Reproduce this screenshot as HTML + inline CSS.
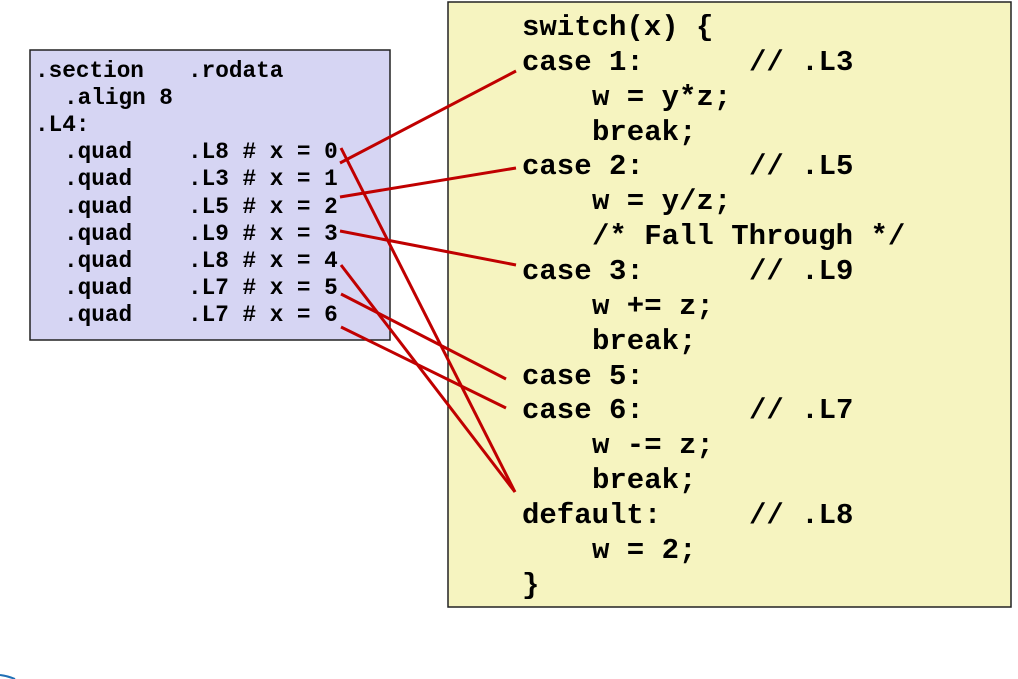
<!DOCTYPE html>
<html><head><meta charset="utf-8"><style>
html,body{margin:0;padding:0;background:#fff;}
svg{display:block;}
text{font-family:"Liberation Mono",monospace;font-weight:bold;fill:#000;white-space:pre;}
</style></head><body>
<svg width="1018" height="679" viewBox="0 0 1018 679" xmlns="http://www.w3.org/2000/svg">
<rect x="30" y="50" width="360" height="290" fill="#d6d5f3" stroke="#222" stroke-width="1.5"/>
<rect x="448" y="2" width="563" height="605" fill="#f6f4c0" stroke="#222" stroke-width="1.5"/>
<g font-size="22.7" xml:space="preserve">
<text x="35" y="77">.section</text><text x="188" y="77">.rodata</text>
<text x="64" y="104">.align 8</text>
<text x="35" y="131">.L4:</text>
<text x="64" y="158">.quad</text><text x="188" y="158">.L8 # x = 0</text>
<text x="64" y="185">.quad</text><text x="188" y="185">.L3 # x = 1</text>
<text x="64" y="213">.quad</text><text x="188" y="213">.L5 # x = 2</text>
<text x="64" y="240">.quad</text><text x="188" y="240">.L9 # x = 3</text>
<text x="64" y="267">.quad</text><text x="188" y="267">.L8 # x = 4</text>
<text x="64" y="294">.quad</text><text x="188" y="294">.L7 # x = 5</text>
<text x="64" y="321">.quad</text><text x="188" y="321">.L7 # x = 6</text>
</g>
<g font-size="29" xml:space="preserve">
<text x="522" y="35">switch(x) {</text>
<text x="522" y="70">case 1:</text><text x="749" y="70">// .L3</text>
<text x="592" y="105">w = y*z;</text>
<text x="592" y="140">break;</text>
<text x="522" y="174">case 2:</text><text x="749" y="174">// .L5</text>
<text x="592" y="209">w = y/z;</text>
<text x="592" y="244">/* Fall Through */</text>
<text x="522" y="279">case 3:</text><text x="749" y="279">// .L9</text>
<text x="592" y="314">w += z;</text>
<text x="592" y="349">break;</text>
<text x="522" y="384">case 5:</text>
<text x="522" y="418">case 6:</text><text x="749" y="418">// .L7</text>
<text x="592" y="453">w -= z;</text>
<text x="592" y="488">break;</text>
<text x="522" y="523">default:</text><text x="749" y="523">// .L8</text>
<text x="592" y="558">w = 2;</text>
<text x="522" y="593">}</text>
</g>
<g stroke="#c00000" stroke-width="3" fill="none">
<line x1="340" y1="163" x2="516" y2="71"/>
<line x1="340" y1="197" x2="516" y2="168"/>
<line x1="340" y1="231" x2="516" y2="265"/>
<line x1="341" y1="148" x2="515" y2="492"/>
<line x1="341" y1="265" x2="515" y2="492"/>
<line x1="341" y1="294" x2="506" y2="379"/>
<line x1="341" y1="327" x2="506" y2="408"/>
</g>
<path d="M0 675 Q8 676 15 679" stroke="#1f6fb5" stroke-width="2" fill="none"/>
</svg>
</body></html>
